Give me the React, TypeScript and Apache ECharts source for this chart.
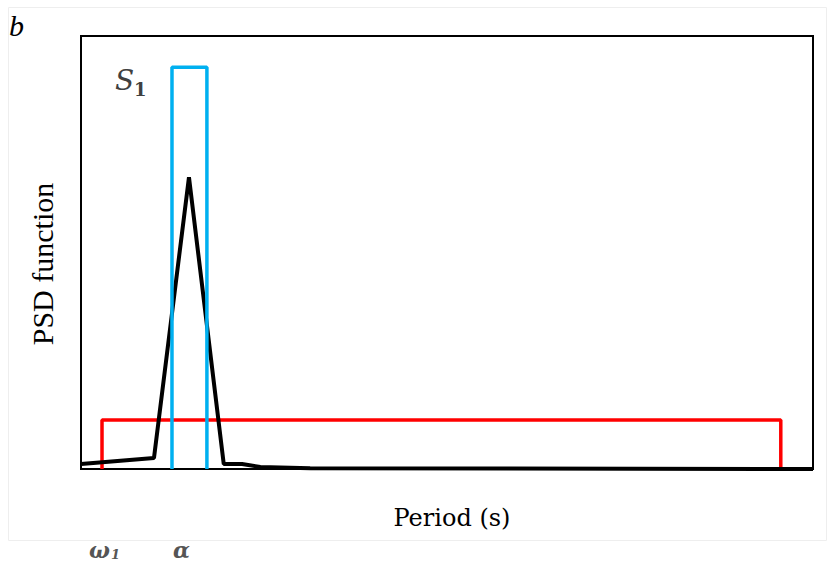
import React, { useEffect, useRef } from "react";
import * as echarts from "echarts";

// PSD curve (arbitrary units, x: 0..100 across plot, y: 0..100 of plot height)
const psdX = [0, 9.97, 14.75, 19.5, 22.0, 24.5, 31.3, 100];
const psdY = [1.15, 2.54, 67.4, 1.15, 1.15, 0.46, 0.2, 0];

// S1 band (blue rectangle)
const s1X = [12.43, 12.43, 17.2, 17.2];
const s1Y = [0, 92.8, 92.8, 0];

// Broad band (red rectangle)
const redX = [2.87, 2.87, 95.6, 95.6];
const redY = [0, 11.3, 11.3, 0];

const xAxisLabel = "Period (s)";
const yAxisLabel = "PSD function";

const zip = (xs: number[], ys: number[]) => xs.map((x, i) => [x, ys[i]]);

export default function App() {
  const ref = useRef<HTMLDivElement>(null);
  useEffect(() => {
    if (!ref.current) return;
    const chart = echarts.init(ref.current, null, { renderer: "svg" });
    const serif = "'Liberation Serif', 'DejaVu Serif', serif";
    const dserif = "'DejaVu Serif', serif";
    chart.setOption({
      animation: false,
      backgroundColor: "#ffffff",
      grid: {
        left: 81,
        top: 36,
        width: 732,
        height: 433,
        show: true,
        borderColor: "#000000",
        borderWidth: 2,
        backgroundColor: "transparent",
      },
      xAxis: {
        type: "value",
        min: 0,
        max: 100,
        axisLine: { show: false },
        axisTick: { show: false },
        axisLabel: { show: false },
        splitLine: { show: false },
      },
      yAxis: {
        type: "value",
        min: 0,
        max: 100,
        axisLine: { show: false },
        axisTick: { show: false },
        axisLabel: { show: false },
        splitLine: { show: false },
      },
      series: [
        {
          type: "line",
          data: zip(redX, redY),
          showSymbol: false,
          lineStyle: { color: "#ff0000", width: 3.5 },
          z: 2,
        },
        {
          type: "line",
          data: zip(psdX, psdY),
          showSymbol: false,
          lineStyle: { color: "#000000", width: 4 },
          z: 3,
        },
        {
          type: "line",
          data: zip(s1X, s1Y),
          showSymbol: false,
          lineStyle: { color: "#00b0f0", width: 3.5 },
          z: 4,
        },
      ],
      graphic: [
        {
          type: "rect",
          shape: { x: 8.5, y: 7.5, width: 818, height: 533 },
          style: { fill: "none", stroke: "#eeeeee", lineWidth: 1 },
          silent: true,
        },
        {
          type: "text",
          x: 9,
          y: 40,
          style: {
            text: "b",
            font: `italic 30px ${serif}`,
            fill: "#000",
            textVerticalAlign: "bottom",
          },
        },
        {
          type: "text",
          x: 115,
          y: 94,
          style: {
            text: "S",
            font: `italic 28px ${dserif}`,
            fill: "#404040",
            textVerticalAlign: "bottom",
          },
        },
        {
          type: "text",
          x: 134,
          y: 98,
          style: {
            text: "1",
            font: `bold 18px ${dserif}`,
            fill: "#404040",
            textVerticalAlign: "bottom",
          },
        },
        {
          type: "text",
          x: 452,
          y: 518,
          style: {
            text: xAxisLabel,
            font: `24px ${dserif}`,
            fill: "#000",
            textAlign: "center",
            textVerticalAlign: "middle",
          },
        },
        {
          type: "text",
          x: 42,
          y: 264,
          rotation: Math.PI / 2,
          style: {
            text: yAxisLabel,
            font: `30px ${serif}`,
            fill: "#000",
            textAlign: "center",
            textVerticalAlign: "middle",
          },
        },
        {
          type: "text",
          x: 89,
          y: 550,
          style: {
            text: "ω",
            font: `italic bold 22px ${dserif}`,
            fill: "#555",
            textVerticalAlign: "middle",
          },
        },
        {
          type: "text",
          x: 111,
          y: 554,
          style: {
            text: "1",
            font: `italic bold 13px ${dserif}`,
            fill: "#555",
            textVerticalAlign: "middle",
          },
        },
        {
          type: "text",
          x: 173,
          y: 550,
          style: {
            text: "α",
            font: `italic bold 22px ${dserif}`,
            fill: "#555",
            textVerticalAlign: "middle",
          },
        },
      ],
    });
    return () => chart.dispose();
  }, []);
  return (
    <div
      ref={ref}
      style={{ position: "fixed", left: 0, top: 0, width: 829, height: 563 }}
    />
  );
}
